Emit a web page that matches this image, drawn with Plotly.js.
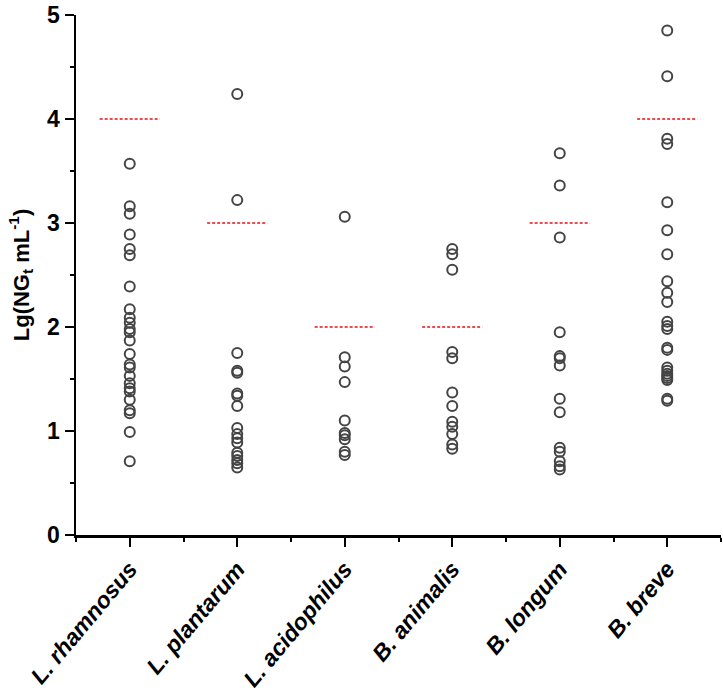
<!DOCTYPE html>
<html>
<head>
<meta charset="utf-8">
<script src="https://cdn.plot.ly/plotly-3.0.1.min.js"></script>
<style>html,body{margin:0;padding:0;background:#fff;}#chart{width:723px;height:697px;}</style>
</head>
<body>
<div id="chart"></div>
<script>
var categories = ["L. rhamnosus", "L. plantarum", "L. acidophilus", "B. animalis", "B. longum", "B. breve"];
var rhamnosus = [3.57, 3.16, 3.09, 2.89, 2.75, 2.69, 2.39, 2.17, 2.09, 2.04, 1.98, 1.95, 1.87, 1.74, 1.64, 1.61, 1.53, 1.46, 1.41, 1.38, 1.30, 1.20, 1.17, 0.99, 0.71];
var plantarum = [4.24, 3.22, 1.75, 1.58, 1.56, 1.36, 1.34, 1.24, 1.03, 0.97, 0.93, 0.89, 0.79, 0.76, 0.72, 0.69, 0.65];
var acidophilus = [3.06, 1.71, 1.62, 1.47, 1.10, 0.98, 0.96, 0.92, 0.80, 0.77];
var animalis = [2.75, 2.70, 2.55, 1.76, 1.70, 1.37, 1.24, 1.09, 1.04, 0.97, 0.87, 0.83];
var longum = [3.67, 3.36, 2.86, 1.95, 1.72, 1.70, 1.63, 1.31, 1.18, 0.84, 0.80, 0.71, 0.66, 0.63];
var breve = [4.85, 4.41, 3.81, 3.76, 3.20, 2.93, 2.70, 2.44, 2.33, 2.24, 2.05, 2.01, 1.98, 1.80, 1.78, 1.61, 1.58, 1.55, 1.53, 1.51, 1.49, 1.31, 1.29];
var thresholds = [4, 3, 2, 2, 3, 4];

var series = [rhamnosus, plantarum, acidophilus, animalis, longum, breve];
var traces = [];
series.forEach(function (vals, i) {
  traces.push({
    type: 'scatter', mode: 'markers',
    x: vals.map(function () { return i; }), y: vals,
    marker: {symbol: 'circle-open', size: 10, color: '#444444', line: {width: 2, color: '#444444'}},
    showlegend: false, hoverinfo: 'y', cliponaxis: false
  });
});
thresholds.forEach(function (t, i) {
  traces.push({
    type: 'scatter', mode: 'lines',
    x: [i - 0.28, i + 0.28], y: [t, t],
    line: {color: '#e8101a', width: 1.5, dash: '3px,2px'},
    showlegend: false, hoverinfo: 'skip'
  });
});

var layout = {
  width: 723, height: 697,
  margin: {l: 76, r: 2, t: 15, b: 162},
  paper_bgcolor: '#ffffff', plot_bgcolor: '#ffffff',
  font: {family: 'Liberation Sans, Arial, sans-serif', color: '#000'},
  xaxis: {
    range: [-0.5, 5.5], tickmode: 'array', tickvals: [0, 1, 2, 3, 4, 5], ticktext: categories,
    tickangle: -50, ticks: 'outside', ticklen: 9, tickwidth: 2, tickcolor: '#000',
    showline: true, linecolor: '#000', linewidth: 2.5, showgrid: false, zeroline: false, automargin: false,
    tickfont: {size: 23, weight: 'bold', style: 'italic', color: '#000'},
    minor: {tickmode: 'linear', tick0: 0.5, dtick: 1, ticks: 'outside', ticklen: 4, tickwidth: 2, tickcolor: '#000', showgrid: false}
  },
  yaxis: {
    range: [0, 5], tickmode: 'linear', tick0: 0, dtick: 1,
    ticks: 'outside', ticklen: 9, tickwidth: 2, tickcolor: '#000',
    showline: true, linecolor: '#000', linewidth: 2.5, showgrid: false, zeroline: false, automargin: false,
    tickfont: {size: 23, weight: 'bold', color: '#000'},
    minor: {tickmode: 'linear', tick0: 0.5, dtick: 1, ticks: 'outside', ticklen: 4, tickwidth: 2, tickcolor: '#000', showgrid: false},
    title: {text: 'Lg(NG<sub>t</sub> mL<sup>-1</sup>)', font: {size: 22, weight: 'bold', color: '#000'}, standoff: 12}
  }
};
Plotly.newPlot('chart', traces, layout, {displayModeBar: false, staticPlot: true});
</script>
</body>
</html>
